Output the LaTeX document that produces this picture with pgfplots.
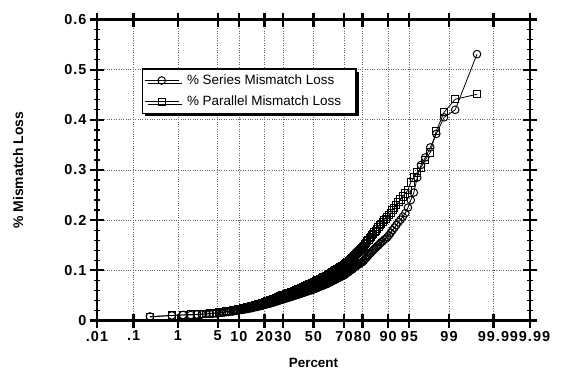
\documentclass[border=0pt]{standalone}
\usepackage{pgfplots}
\pgfplotsset{compat=1.18}
\usepackage{pgfplotstable}
\usepackage{fontspec}
\setmainfont{Liberation Sans}
\newfontfamily\tickfont[LetterSpace=7]{Liberation Sans}
\usetikzlibrary{shadows}

% p = plotting position in percent, S = % series mismatch loss, P = % parallel mismatch loss
\pgfplotstableread{
p S P
0.25 0.008 0.007
0.75 0.010 0.010
1.25 0.011 0.011
1.75 0.011 0.012
2.25 0.012 0.012
2.75 0.012 0.013
3.25 0.013 0.013
3.75 0.013 0.014
4.25 0.014 0.015
4.75 0.014 0.015
5.25 0.015 0.016
5.75 0.016 0.017
6.25 0.016 0.017
6.75 0.017 0.018
7.25 0.017 0.019
7.75 0.018 0.019
8.25 0.018 0.020
8.75 0.019 0.021
9.25 0.019 0.021
9.75 0.020 0.022
10.25 0.021 0.023
10.75 0.021 0.023
11.25 0.022 0.024
11.75 0.022 0.025
12.25 0.023 0.025
12.75 0.023 0.026
13.25 0.024 0.027
13.75 0.024 0.027
14.25 0.025 0.028
14.75 0.025 0.029
15.25 0.026 0.029
15.75 0.027 0.030
16.25 0.027 0.031
16.75 0.028 0.031
17.25 0.028 0.032
17.75 0.029 0.033
18.25 0.029 0.033
18.75 0.030 0.034
19.25 0.030 0.035
19.75 0.031 0.035
20.25 0.032 0.036
20.75 0.032 0.037
21.25 0.033 0.038
21.75 0.033 0.038
22.25 0.034 0.039
22.75 0.034 0.040
23.25 0.035 0.040
23.75 0.035 0.041
24.25 0.036 0.042
24.75 0.036 0.043
25.25 0.037 0.043
25.75 0.038 0.044
26.25 0.038 0.045
26.75 0.039 0.045
27.25 0.039 0.046
27.75 0.040 0.047
28.25 0.041 0.048
28.75 0.041 0.048
29.25 0.042 0.049
29.75 0.042 0.050
30.25 0.043 0.050
30.75 0.043 0.051
31.25 0.044 0.051
31.75 0.044 0.052
32.25 0.045 0.053
32.75 0.045 0.053
33.25 0.046 0.054
33.75 0.046 0.054
34.25 0.047 0.055
34.75 0.047 0.056
35.25 0.048 0.056
35.75 0.048 0.057
36.25 0.049 0.057
36.75 0.049 0.058
37.25 0.050 0.059
37.75 0.050 0.059
38.25 0.051 0.060
38.75 0.051 0.061
39.25 0.052 0.061
39.75 0.052 0.062
40.25 0.053 0.062
40.75 0.053 0.063
41.25 0.054 0.064
41.75 0.054 0.064
42.25 0.055 0.065
42.75 0.055 0.066
43.25 0.056 0.066
43.75 0.056 0.067
44.25 0.057 0.068
44.75 0.057 0.068
45.25 0.058 0.069
45.75 0.058 0.070
46.25 0.059 0.071
46.75 0.059 0.071
47.25 0.060 0.072
47.75 0.060 0.073
48.25 0.061 0.073
48.75 0.061 0.074
49.25 0.061 0.075
49.75 0.062 0.075
50.25 0.063 0.076
50.75 0.063 0.077
51.25 0.064 0.077
51.75 0.064 0.078
52.25 0.065 0.079
52.75 0.066 0.080
53.25 0.066 0.080
53.75 0.067 0.081
54.25 0.067 0.082
54.75 0.068 0.083
55.25 0.069 0.083
55.75 0.069 0.084
56.25 0.070 0.085
56.75 0.070 0.086
57.25 0.071 0.086
57.75 0.072 0.087
58.25 0.072 0.088
58.75 0.073 0.089
59.25 0.073 0.089
59.75 0.074 0.090
60.25 0.075 0.091
60.75 0.076 0.092
61.25 0.076 0.093
61.75 0.077 0.094
62.25 0.078 0.095
62.75 0.079 0.096
63.25 0.080 0.097
63.75 0.080 0.098
64.25 0.081 0.099
64.75 0.082 0.100
65.25 0.083 0.101
65.75 0.084 0.102
66.25 0.084 0.103
66.75 0.085 0.104
67.25 0.086 0.105
67.75 0.087 0.106
68.25 0.088 0.107
68.75 0.088 0.108
69.25 0.089 0.109
69.75 0.090 0.110
70.25 0.091 0.111
70.75 0.092 0.113
71.25 0.094 0.114
71.75 0.095 0.116
72.25 0.096 0.117
72.75 0.097 0.118
73.25 0.099 0.120
73.75 0.100 0.121
74.25 0.101 0.123
74.75 0.102 0.124
75.25 0.104 0.126
75.75 0.106 0.128
76.25 0.107 0.130
76.75 0.108 0.132
77.25 0.110 0.134
77.75 0.111 0.136
78.25 0.112 0.138
78.75 0.114 0.140
79.25 0.115 0.142
79.75 0.116 0.144
80.25 0.118 0.146
80.75 0.120 0.149
81.25 0.123 0.152
81.75 0.125 0.155
82.25 0.128 0.158
82.75 0.130 0.161
83.25 0.133 0.164
83.75 0.135 0.167
84.25 0.138 0.170
84.75 0.140 0.173
85.25 0.143 0.176
85.75 0.145 0.179
86.25 0.148 0.183
86.75 0.150 0.186
87.25 0.153 0.190
87.75 0.156 0.193
88.25 0.158 0.197
88.75 0.161 0.200
89.25 0.163 0.203
89.75 0.166 0.207
90.25 0.170 0.211
90.75 0.175 0.215
91.25 0.180 0.220
91.75 0.185 0.225
92.25 0.190 0.230
92.75 0.196 0.236
93.25 0.201 0.241
93.75 0.207 0.247
94.25 0.214 0.253
94.75 0.225 0.260
95.25 0.240 0.275
95.75 0.255 0.285
96.25 0.285 0.295
96.75 0.310 0.305
97.25 0.325 0.320
97.75 0.345 0.335
98.25 0.372 0.378
98.75 0.405 0.415
99.25 0.420 0.441
99.75 0.531 0.451
}\mydata

\begin{document}
\begin{tikzpicture}
\begin{axis}[
  scale only axis,
  width=433bp, height=301bp,
  x coord trafo/.code={%
    \pgfmathparse{#1<50 ? #1 : 100-#1}\let\myq\pgfmathresult
    \pgfmathparse{sqrt(-2*(ln(\myq)-4.60517))}\let\myt\pgfmathresult
    \pgfmathparse{\myt-(2.515517+0.802853*\myt+0.010328*\myt*\myt)/(1+1.432788*\myt+0.189269*\myt*\myt+0.001308*\myt*\myt*\myt)}\let\myz\pgfmathresult
    \pgfmathparse{#1<50 ? -\myz : \myz}},
  xmin=0.01, xmax=99.99,
  ymin=0, ymax=0.6,
  xtick={0.01,0.1,1,5,10,20,30,50,70,80,90,95,99,99.9,99.99},
  xticklabels={.01,.1,1,5,10,20,30,50,70,80,90,95,99,99.9,99.99},
  ytick={0,0.1,0.2,0.3,0.4,0.5,0.6},
  yticklabels={0,0.1,0.2,0.3,0.4,0.5,0.6},
  minor y tick num=4,
  grid=major,
  major grid style={dotted, line width=0.7bp, black!60},
  tick align=center,
  major tick length=14bp,
  minor tick length=6bp,
  major tick style={line width=2.2bp, black},
  minor tick style={line width=1.3bp, black},
  axis line style={line width=2.6bp},
  tick label style={font=\tickfont\bfseries\fontsize{14.5}{16}\selectfont},
  /pgf/number format/assume math mode=true,
  xlabel={Percent},
  ylabel={\% Mismatch Loss},
  every axis x label/.style={at={(axis description cs:0.5,-0.1412)}, anchor=center, font=\bfseries\fontsize{13.5}{15}\selectfont},
  every axis y label/.style={at={(axis description cs:-0.1824,0.5)}, anchor=center, rotate=90, font=\bfseries\fontsize{14}{16}\selectfont},
  legend style={at={(rel axis cs:0.103,0.838)}, anchor=north west, draw=black, line width=1.3bp, fill=white,
    drop shadow={shadow xshift=3bp, shadow yshift=-3bp, fill=black, opacity=1},
    font=\fontsize{13.5}{15}\selectfont, inner xsep=2bp, inner ysep=4bp, row sep=6bp, column sep=5bp,
    nodes={inner xsep=3bp}},
  legend cell align=left,
  legend image code/.code={\draw[mark repeat=2, mark phase=2, #1] plot coordinates {(0bp,0bp) (17bp,0bp) (34bp,0bp)};},
]
\addplot[black, line width=0.8bp, mark=o, mark size=3.8bp, mark options={solid, line width=1bp}] table[x=p, y=S]{\mydata};
\addlegendentry{\% Series Mismatch Loss}
\addplot[black, line width=0.8bp, mark=square, mark size=3.6bp, mark options={solid, line width=1bp}] table[x=p, y=P]{\mydata};
\addlegendentry{\% Parallel Mismatch Loss\rule{10bp}{0pt}}
\end{axis}
\path (current axis.south west) ++(-97bp,-55.5bp) coordinate (bl);
\path (current axis.north east) ++(33bp,19.5bp) coordinate (tr);
\path (bl) rectangle (tr);
\end{tikzpicture}
\end{document}
